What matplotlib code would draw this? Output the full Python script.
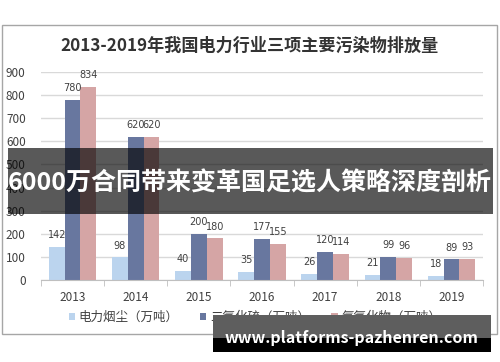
"""Power-sector pollutant emissions, 2013-2019"""

import matplotlib
matplotlib.use('Agg')
import matplotlib.pyplot as plt
import numpy as np
from matplotlib.patches import Rectangle

plt.rcParams['font.family'] = ['Noto Sans CJK SC', 'DejaVu Sans']

years = ['2013', '2014', '2015', '2016', '2017', '2018', '2019']
dust = [142, 98, 40, 35, 26, 21, 18]
so2 = [780, 620, 200, 177, 120, 99, 89]
nox = [834, 620, 180, 155, 114, 96, 93]

series_names = ['电力烟尘（万吨）', '二氧化硫（万吨）', '氮氧化物（万吨）']
colors = ['#BBD4EE', '#68779F', '#D5A5A5']

title = '2013-2019年我国电力行业三项主要污染物排放量'
banner = '6000万合同带来变革国足选人策略深度剖析'
watermark = 'www.platforms-pazhenren.com'

W, H = 500, 362
fig = plt.figure(figsize=(W / 100, H / 100), dpi=100)


def fx(px):
    return px / W


def fy(py):
    return 1 - py / H


# chart frame
fig.patches.append(Rectangle((fx(2), fy(334)), fx(495), 309 / H, transform=fig.transFigure,
                             facecolor='white', edgecolor='#A6A6A6', linewidth=1, zorder=-5))

ax = fig.add_axes([fx(41), fy(280), fx(442), 208 / H])
ax.set_zorder(1)
x = np.arange(len(years))
w = 0.25
for i, (vals, c) in enumerate(zip([dust, so2, nox], colors)):
    bars = ax.bar(x + (i - 1) * w, vals, width=w, color=c, label=series_names[i], zorder=2)
    for b, v in zip(bars, vals):
        ax.annotate(str(v), (b.get_x() + b.get_width() / 2, v), xytext=(0, 8.5),
                    textcoords='offset points', ha='center', va='center',
                    fontsize=7, color='#404040', family=['DejaVu Sans'])

ax.set_ylim(0, 900)
ax.set_xlim(-0.5, len(years) - 0.5)
ax.set_yticks(range(0, 901, 100))
ax.yaxis.grid(True, color='#D9D9D9', linewidth=1, zorder=0)
ax.set_axisbelow(True)
for s in ['top', 'right', 'left']:
    ax.spines[s].set_visible(False)
ax.spines['bottom'].set_color('#BFBFBF')
ax.tick_params(axis='y', length=0, labelsize=8.5, labelcolor='#404040', pad=11)
ax.set_xticks(x)
ax.set_xticklabels(years)
ax.tick_params(axis='x', length=0, labelsize=8.5, labelcolor='#404040', pad=8)
ax.set_xticks(np.arange(-0.5, len(years), 1), minor=True)
ax.tick_params(axis='x', which='minor', length=4, color='#BFBFBF')
ax.set_facecolor('none')

fig.text(0.5, fy(46), title, ha='center', va='center', fontsize=12.3,
         fontweight='bold', color='#333333')

ax.legend(loc='center', bbox_to_anchor=(fx(255), fy(317)), bbox_transform=fig.transFigure,
          ncol=3, frameon=False, fontsize=9, handlelength=0.5, handleheight=0.5,
          handletextpad=0.3, columnspacing=1.7, labelcolor='#404040')

# overlay banner
fig.patches.append(Rectangle((fx(8), fy(214)), fx(485), 66 / H, transform=fig.transFigure,
                             facecolor='black', alpha=0.65, edgecolor='none', zorder=5))
fig.text(fx(250), fy(183), banner, ha='center', va='center', fontsize=18,
         fontweight='bold', color='white', zorder=6)

# watermark box
fig.patches.append(Rectangle((fx(213), fy(338)), fx(278), 23 / H, transform=fig.transFigure,
                             facecolor='#5E5E5E', edgecolor='none', zorder=5))
fig.patches.append(Rectangle((fx(213), fy(352)), fx(278), 14 / H, transform=fig.transFigure,
                             facecolor='black', edgecolor='none', zorder=5))
fig.text(fx(351), fy(338), watermark, ha='center', va='center', fontsize=11.5,
         fontweight='bold', color='white', zorder=6)

fig.savefig('out.png', dpi=100)
